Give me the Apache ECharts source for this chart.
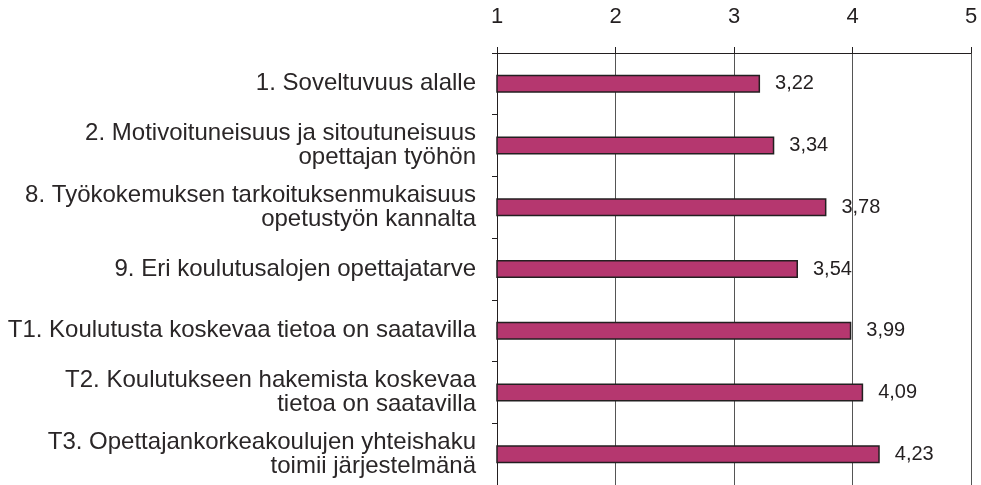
<!DOCTYPE html>
<html>
<head>
<meta charset="utf-8">
<script src="https://cdn.jsdelivr.net/npm/echarts@6/dist/echarts.min.js"></script>
<style>
  html, body { margin: 0; padding: 0; background: #fff; }
  #main { width: 981px; height: 485px; }
</style>
</head>
<body>
<div id="main"></div>
<script>
// kysymykset ylhäältä alas
var categories = [
  '1. Soveltuvuus alalle',
  '2. Motivoituneisuus ja sitoutuneisuus\nopettajan työhön',
  '8. Työkokemuksen tarkoituksenmukaisuus\nopetustyön kannalta',
  '9. Eri koulutusalojen opettajatarve',
  'T1. Koulutusta koskevaa tietoa on saatavilla',
  'T2. Koulutukseen hakemista koskevaa\ntietoa on saatavilla',
  'T3. Opettajankorkeakoulujen yhteishaku\ntoimii järjestelmänä'
];
var values = [3.22, 3.34, 3.78, 3.54, 3.99, 4.09, 4.23];
var scaleMin = 1;
var scaleMax = 5;

var font = '"Liberation Sans", Arial, Helvetica, sans-serif';
var ink = '#231f20';

var chart = echarts.init(document.getElementById('main'));
chart.setOption({
  animation: false,
  grid: {
    left: 497,
    right: 10,
    top: 53,
    bottom: 0
  },
  xAxis: {
    type: 'value',
    position: 'top',
    min: scaleMin,
    max: scaleMax,
    interval: 1,
    axisLine: { show: true, lineStyle: { color: ink, width: 1 } },
    axisTick: { show: true, length: 6, lineStyle: { color: ink } },
    axisLabel: {
      margin: 25,
      fontSize: 22,
      fontFamily: font,
      color: ink
    },
    splitLine: { show: true, lineStyle: { color: '#555', width: 1 } }
  },
  yAxis: {
    type: 'category',
    inverse: true,
    data: categories,
    axisLine: { show: true, lineStyle: { color: ink, width: 1 } },
    axisTick: { show: true, length: 5, lineStyle: { color: ink } },
    axisLabel: {
      margin: 21,
      fontSize: 24,
      lineHeight: 24,
      padding: [0, 0, 5, 0],
      fontFamily: font,
      color: '#2a2627',
      align: 'right'
    },
    splitLine: { show: false }
  },
  series: [{
    type: 'bar',
    data: values,
    barWidth: 18,
    itemStyle: {
      color: '#B5376F',
      borderColor: ink,
      borderWidth: 1.5
    },
    label: {
      show: true,
      position: 'right',
      distance: 15,
      fontSize: 20,
      fontFamily: font,
      color: ink,
      formatter: function (p) {
        return p.value.toFixed(2).replace('.', ',');
      }
    }
  }]
});
</script>
</body>
</html>
